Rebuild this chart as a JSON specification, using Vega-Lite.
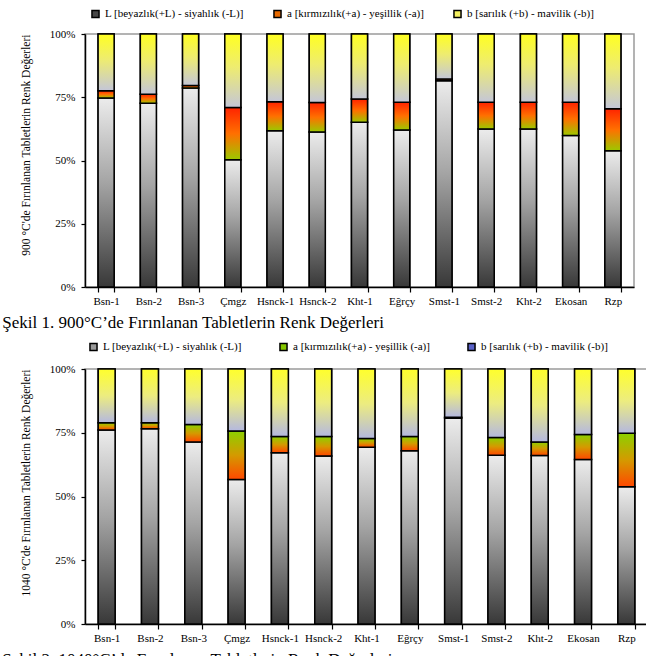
{
  "$schema": "https://vega.github.io/schema/vega-lite/v6.json",
  "padding": {"left": 1, "top": 7, "right": 0, "bottom": 0},
  "background": "white",
  "config": {
    "font": "Liberation Serif",
    "view": {"stroke": "#9a9a9a", "strokeWidth": 1.5},
    "axis": {"labelFont": "Liberation Serif", "titleFont": "Liberation Serif", "labelColor": "black", "titleColor": "black", "domainColor": "black", "tickColor": "black", "domainWidth": 1.5, "tickWidth": 1.2, "labelFontSize": 11, "grid": false},
    "legend": {"labelFont": "Liberation Serif", "labelColor": "black", "labelFontSize": 11}
  },
  "datasets": {
    "c900": [
      {"sample": "Bsn-1", "comp": "L", "value": 74.7}, {"sample": "Bsn-1", "comp": "a", "value": 2.9}, {"sample": "Bsn-1", "comp": "b", "value": 22.4},
      {"sample": "Bsn-2", "comp": "L", "value": 72.6}, {"sample": "Bsn-2", "comp": "a", "value": 3.6}, {"sample": "Bsn-2", "comp": "b", "value": 23.8},
      {"sample": "Bsn-3", "comp": "L", "value": 78.7}, {"sample": "Bsn-3", "comp": "a", "value": 0.9}, {"sample": "Bsn-3", "comp": "b", "value": 20.4},
      {"sample": "Çmgz", "comp": "L", "value": 50.3}, {"sample": "Çmgz", "comp": "a", "value": 20.6}, {"sample": "Çmgz", "comp": "b", "value": 29.1},
      {"sample": "Hsnck-1", "comp": "L", "value": 61.8}, {"sample": "Hsnck-1", "comp": "a", "value": 11.4}, {"sample": "Hsnck-1", "comp": "b", "value": 26.8},
      {"sample": "Hsnck-2", "comp": "L", "value": 61.3}, {"sample": "Hsnck-2", "comp": "a", "value": 11.6}, {"sample": "Hsnck-2", "comp": "b", "value": 27.1},
      {"sample": "Kht-1", "comp": "L", "value": 65.1}, {"sample": "Kht-1", "comp": "a", "value": 9.2}, {"sample": "Kht-1", "comp": "b", "value": 25.7},
      {"sample": "Eğrçy", "comp": "L", "value": 62.1}, {"sample": "Eğrçy", "comp": "a", "value": 10.9}, {"sample": "Eğrçy", "comp": "b", "value": 27.0},
      {"sample": "Smst-1", "comp": "L", "value": 81.5}, {"sample": "Smst-1", "comp": "a", "value": 0.7}, {"sample": "Smst-1", "comp": "b", "value": 17.8},
      {"sample": "Smst-2", "comp": "L", "value": 62.5}, {"sample": "Smst-2", "comp": "a", "value": 10.5}, {"sample": "Smst-2", "comp": "b", "value": 27.0},
      {"sample": "Kht-2", "comp": "L", "value": 62.5}, {"sample": "Kht-2", "comp": "a", "value": 10.5}, {"sample": "Kht-2", "comp": "b", "value": 27.0},
      {"sample": "Ekosan", "comp": "L", "value": 59.9}, {"sample": "Ekosan", "comp": "a", "value": 13.1}, {"sample": "Ekosan", "comp": "b", "value": 27.0},
      {"sample": "Rzp", "comp": "L", "value": 53.9}, {"sample": "Rzp", "comp": "a", "value": 16.6}, {"sample": "Rzp", "comp": "b", "value": 29.5}
    ],
    "c1040": [
      {"sample": "Bsn-1", "comp": "L", "value": 76.1}, {"sample": "Bsn-1", "comp": "a", "value": 2.8}, {"sample": "Bsn-1", "comp": "b", "value": 21.1},
      {"sample": "Bsn-2", "comp": "L", "value": 76.6}, {"sample": "Bsn-2", "comp": "a", "value": 2.3}, {"sample": "Bsn-2", "comp": "b", "value": 21.1},
      {"sample": "Bsn-3", "comp": "L", "value": 71.4}, {"sample": "Bsn-3", "comp": "a", "value": 6.8}, {"sample": "Bsn-3", "comp": "b", "value": 21.8},
      {"sample": "Çmgz", "comp": "L", "value": 56.7}, {"sample": "Çmgz", "comp": "a", "value": 19.0}, {"sample": "Çmgz", "comp": "b", "value": 24.3},
      {"sample": "Hsnck-1", "comp": "L", "value": 67.2}, {"sample": "Hsnck-1", "comp": "a", "value": 6.3}, {"sample": "Hsnck-1", "comp": "b", "value": 26.5},
      {"sample": "Hsnck-2", "comp": "L", "value": 65.9}, {"sample": "Hsnck-2", "comp": "a", "value": 7.6}, {"sample": "Hsnck-2", "comp": "b", "value": 26.5},
      {"sample": "Kht-1", "comp": "L", "value": 69.3}, {"sample": "Kht-1", "comp": "a", "value": 3.4}, {"sample": "Kht-1", "comp": "b", "value": 27.3},
      {"sample": "Eğrçy", "comp": "L", "value": 67.9}, {"sample": "Eğrçy", "comp": "a", "value": 5.6}, {"sample": "Eğrçy", "comp": "b", "value": 26.5},
      {"sample": "Smst-1", "comp": "L", "value": 80.7}, {"sample": "Smst-1", "comp": "a", "value": 0.4}, {"sample": "Smst-1", "comp": "b", "value": 18.9},
      {"sample": "Smst-2", "comp": "L", "value": 66.2}, {"sample": "Smst-2", "comp": "a", "value": 6.9}, {"sample": "Smst-2", "comp": "b", "value": 26.9},
      {"sample": "Kht-2", "comp": "L", "value": 66.1}, {"sample": "Kht-2", "comp": "a", "value": 5.3}, {"sample": "Kht-2", "comp": "b", "value": 28.6},
      {"sample": "Ekosan", "comp": "L", "value": 64.5}, {"sample": "Ekosan", "comp": "a", "value": 9.8}, {"sample": "Ekosan", "comp": "b", "value": 25.7},
      {"sample": "Rzp", "comp": "L", "value": 53.8}, {"sample": "Rzp", "comp": "a", "value": 21.0}, {"sample": "Rzp", "comp": "b", "value": 25.2}
    ]
  },
  "resolve": {"scale": {"color": "independent", "x": "independent", "y": "independent"}, "legend": {"color": "independent"}},
  "spacing": 8,
  "vconcat": [
    {
      "width": 549,
      "height": 253,
      "data": {"name": "c900"},
      "title": {"text": "Şekil 1. 900°C’de Fırınlanan Tabletlerin Renk Değerleri", "orient": "bottom", "anchor": "start", "frame": "bounds", "font": "Liberation Serif", "fontSize": 17, "fontWeight": "normal", "color": "black", "offset": 9, "dx": -18},
      "transform": [
        {"stack": "value", "groupby": ["sample"], "offset": "normalize", "sort": [{"field": "comp", "order": "ascending"}], "as": ["y0", "y1"]}
      ],
      "encoding": {
        "x": {"field": "sample", "type": "nominal", "sort": null, "scale": {"paddingInner": 0.62, "paddingOuter": 0.31},
              "axis": {"title": null, "labelAngle": 0, "tickBand": "extent", "tickSize": 5, "labelPadding": 3}},
        "y": {"field": "y0", "type": "quantitative", "scale": {"domain": [0, 1]},
              "axis": {"values": [0, 0.25, 0.5, 0.75, 1], "format": ".0%", "tickSize": 4, "labelPadding": 6,
                       "title": "900 °C'de Fırınlanan Tabletlerin Renk Değerleri", "titleFontSize": 11.5, "titleFontWeight": "normal", "titleAnchor": "end", "titlePadding": 18}},
        "y2": {"field": "y1"}
      },
      "layer": [
        {
          "mark": {"type": "bar", "stroke": "black", "strokeWidth": 1.5},
          "encoding": {
            "color": {"field": "comp", "type": "nominal",
                      "scale": {"domain": ["L", "a", "b"], "range": ["#464646", "#e86a00", "#f4f060"]},
                      "legend": {"orient": "none", "legendX": 5, "legendY": -26, "direction": "horizontal", "title": null,
                                 "symbolType": "square", "symbolSize": 50, "symbolStrokeColor": "black", "symbolStrokeWidth": 1.5,
                                 "columnPadding": 26, "labelOffset": 4,
                                 "labelExpr": "datum.label == 'L' ? 'L [beyazlık(+L) - siyahlık (-L)]' : datum.label == 'a' ? 'a [kırmızılık(+a) - yeşillik (-a)]' : 'b [sarılık (+b) - mavilik (-b)]'"}}
          }
        },
        {
          "transform": [{"filter": {"field": "comp", "equal": "L"}}],
          "mark": {"type": "bar", "stroke": "black", "strokeWidth": 1.5,
                   "color": {"gradient": "linear", "x1": 0, "y1": 1, "x2": 0, "y2": 0,
                             "stops": [{"offset": 0, "color": "#383838"}, {"offset": 0.55, "color": "#a4a4a4"}, {"offset": 1, "color": "#ececec"}]}}
        },
        {
          "transform": [{"filter": {"field": "comp", "equal": "a"}}],
          "mark": {"type": "bar", "stroke": "black", "strokeWidth": 1.5,
                   "color": {"gradient": "linear", "x1": 0, "y1": 1, "x2": 0, "y2": 0,
                             "stops": [{"offset": 0, "color": "#9cc800"}, {"offset": 0.5, "color": "#ff7000"}, {"offset": 1, "color": "#ff2400"}]}}
        },
        {
          "transform": [{"filter": {"field": "comp", "equal": "b"}}],
          "mark": {"type": "bar", "stroke": "black", "strokeWidth": 1.5,
                   "color": {"gradient": "linear", "x1": 0, "y1": 1, "x2": 0, "y2": 0,
                             "stops": [{"offset": 0, "color": "#c4c6d8"}, {"offset": 0.55, "color": "#eeec70"}, {"offset": 1, "color": "#ffff22"}]}}
        }
      ]
    },
    {
      "width": 563,
      "height": 255,
      "data": {"name": "c1040"},
      "title": {"text": "Şekil 2. 1040°C’de Fırınlanan Tabletlerin Renk Değerleri", "orient": "bottom", "anchor": "start", "frame": "bounds", "font": "Liberation Serif", "fontSize": 17, "fontWeight": "normal", "color": "black", "offset": 9, "dx": -18},
      "transform": [
        {"stack": "value", "groupby": ["sample"], "offset": "normalize", "sort": [{"field": "comp", "order": "ascending"}], "as": ["y0", "y1"]}
      ],
      "encoding": {
        "x": {"field": "sample", "type": "nominal", "sort": null, "scale": {"paddingInner": 0.61, "paddingOuter": 0.305},
              "axis": {"title": null, "labelAngle": 0, "tickBand": "extent", "tickSize": 5, "labelPadding": 3}},
        "y": {"field": "y0", "type": "quantitative", "scale": {"domain": [0, 1]},
              "axis": {"values": [0, 0.25, 0.5, 0.75, 1], "format": ".0%", "tickSize": 4, "labelPadding": 6,
                       "title": "1040 °C'de Fırınlanan Tabletlerin Renk Değerleri", "titleFontSize": 11.5, "titleFontWeight": "normal", "titleAnchor": "end", "titlePadding": 18}},
        "y2": {"field": "y1"}
      },
      "layer": [
        {
          "mark": {"type": "bar", "stroke": "black", "strokeWidth": 1.5},
          "encoding": {
            "color": {"field": "comp", "type": "nominal",
                      "scale": {"domain": ["L", "a", "b"], "range": ["#9a9a9a", "#86c800", "#5a62c8"]},
                      "legend": {"orient": "none", "legendX": 3, "legendY": -28, "direction": "horizontal", "title": null,
                                 "symbolType": "square", "symbolSize": 50, "symbolStrokeColor": "black", "symbolStrokeWidth": 1.5,
                                 "columnPadding": 34, "labelOffset": 4,
                                 "labelExpr": "datum.label == 'L' ? 'L [beyazlık(+L) - siyahlık (-L)]' : datum.label == 'a' ? 'a [kırmızılık(+a) - yeşillik (-a)]' : 'b [sarılık (+b) - mavilik (-b)]'"}}
          }
        },
        {
          "transform": [{"filter": {"field": "comp", "equal": "L"}}],
          "mark": {"type": "bar", "stroke": "black", "strokeWidth": 1.5,
                   "color": {"gradient": "linear", "x1": 0, "y1": 1, "x2": 0, "y2": 0,
                             "stops": [{"offset": 0, "color": "#383838"}, {"offset": 0.55, "color": "#a4a4a4"}, {"offset": 1, "color": "#ececec"}]}}
        },
        {
          "transform": [{"filter": {"field": "comp", "equal": "a"}}],
          "mark": {"type": "bar", "stroke": "black", "strokeWidth": 1.5,
                   "color": {"gradient": "linear", "x1": 0, "y1": 1, "x2": 0, "y2": 0,
                             "stops": [{"offset": 0, "color": "#ff4800"}, {"offset": 0.5, "color": "#d49a00"}, {"offset": 1, "color": "#8cd000"}]}}
        },
        {
          "transform": [{"filter": {"field": "comp", "equal": "b"}}],
          "mark": {"type": "bar", "stroke": "black", "strokeWidth": 1.5,
                   "color": {"gradient": "linear", "x1": 0, "y1": 1, "x2": 0, "y2": 0,
                             "stops": [{"offset": 0, "color": "#b4b8e0"}, {"offset": 0.5, "color": "#ecec80"}, {"offset": 1, "color": "#ffff2c"}]}}
        }
      ]
    }
  ]
}
